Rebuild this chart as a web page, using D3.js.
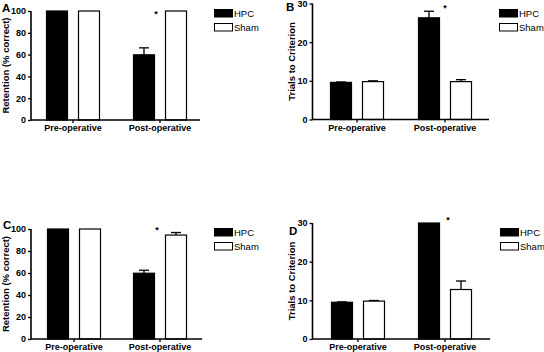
<!DOCTYPE html>
<html lang="en">
  <head>
    <meta charset="UTF-8">
    <title>HPC vs Sham</title>
    <script src="https://d3js.org/d3.v7.min.js"></script>
    <style>
      * {
        margin: 0;
        padding: 0;
      }
      body {
        background: #fff;
      }
      body > svg {
        display: block;
      }
      text {
        font-family: "Liberation Sans", Arial, sans-serif;
      }
    </style>
  </head>
  <body>
    <script>
      // data
      var categories = ["Pre-operative", "Post-operative"];
      var series = ["HPC", "Sham"];

      var hpcA = [100, 59.8], hpcErrA = [0, 6.4];
      var shamA = [100, 100], shamErrA = [0, 0];

      var hpcB = [9.6, 26.3], hpcErrB = [0.1, 1.7];
      var shamB = [9.8, 9.8], shamErrB = [0.2, 0.5];

      var hpcC = [100, 59.8], hpcErrC = [0, 2.7];
      var shamC = [100, 94.5], shamErrC = [0, 2.3];

      var hpcD = [9.5, 30], hpcErrD = [0.1, 0];
      var shamD = [9.8, 12.8], shamErrD = [0.15, 2.2];

      var ticksPct = [0, 20, 40, 60, 80, 100];
      var ticksTrials = [0, 10, 20, 30];

      var width = 544;
      var height = 352;

      var svg = d3.select("body").append("svg")
        .attr("width", width)
        .attr("height", height);

      // layout of the four panels
      var panels = [
        { id: "A", hpc: hpcA, hpcErr: hpcErrA, sham: shamA, shamErr: shamErrA,
          max: 100, ticks: ticksPct, ylabel: "Retention (% correct)",
          x0: 31, x1: 200, yTop: 11, yBot: 120, c: [73, 160], star: 156,
          starVal: 100, labelX: 2, labelY: 12, ylabX: 9, legX: 214, legY: 9 },
        { id: "B", hpc: hpcB, hpcErr: hpcErrB, sham: shamB, shamErr: shamErrB,
          max: 30, ticks: ticksTrials, ylabel: "Trials to Criterion",
          x0: 312.5, x1: 489, yTop: 3.5, yBot: 119.5, c: [357, 445], star: 445,
          starVal: 29.5, labelX: 286, labelY: 11, ylabX: 295, legX: 499, legY: 9 },
        { id: "C", hpc: hpcC, hpcErr: hpcErrC, sham: shamC, shamErr: shamErrC,
          max: 100, ticks: ticksPct, ylabel: "Retention (% correct)",
          x0: 31, x1: 202, yTop: 229, yBot: 339, c: [74, 160], star: 157,
          starVal: 102, labelX: 3, labelY: 229, ylabX: 9, legX: 214, legY: 228 },
        { id: "D", hpc: hpcD, hpcErr: hpcErrD, sham: shamD, shamErr: shamErrD,
          max: 30, ticks: ticksTrials, ylabel: "Trials to Criterion",
          x0: 312.5, x1: 490, yTop: 223, yBot: 339, c: [358, 445], star: 448,
          starVal: 31.5, labelX: 289, labelY: 235, ylabX: 295, legX: 500, legY: 228 }
      ];

      var fills = { HPC: "#000", Sham: "#fff" };

      panels.forEach(function (p) {
        var g = svg.append("g");
        var step = p.c[1] - p.c[0];

        var x = d3.scaleBand()
          .domain(categories)
          .range([p.c[0] - step / 2, p.c[1] + step / 2]);

        var xs = d3.scaleBand()
          .domain(series)
          .range([-27, 27])
          .paddingInner(0.3125);

        var y = d3.scaleLinear()
          .domain([0, p.max])
          .range([p.yBot, p.yTop]);

        var rows = [];
        categories.forEach(function (cat, i) {
          rows.push({ cat: cat, s: "HPC", v: p.hpc[i], e: p.hpcErr[i] });
          rows.push({ cat: cat, s: "Sham", v: p.sham[i], e: p.shamErr[i] });
        });

        function cx(d) {
          return x(d.cat) + x.bandwidth() / 2 + xs(d.s);
        }

        // error bars (upper half only)
        var eb = g.selectAll(".err")
          .data(rows.filter(function (d) { return d.e > 0; }))
          .enter().append("g")
          .attr("stroke", "#000")
          .attr("stroke-width", 1.3);
        eb.append("line")
          .attr("x1", function (d) { return cx(d) + xs.bandwidth() / 2; })
          .attr("x2", function (d) { return cx(d) + xs.bandwidth() / 2; })
          .attr("y1", function (d) { return y(d.v); })
          .attr("y2", function (d) { return y(d.v + d.e); });
        eb.append("line")
          .attr("x1", function (d) { return cx(d) + xs.bandwidth() / 2 - 5; })
          .attr("x2", function (d) { return cx(d) + xs.bandwidth() / 2 + 5; })
          .attr("y1", function (d) { return y(d.v + d.e); })
          .attr("y2", function (d) { return y(d.v + d.e); });

        g.selectAll(".bar")
          .data(rows)
          .enter().append("rect")
          .attr("x", function (d) { return cx(d) + 0.5; })
          .attr("y", function (d) { return y(d.v); })
          .attr("width", xs.bandwidth() - 1)
          .attr("height", function (d) { return y(0) - y(d.v); })
          .attr("fill", function (d) { return fills[d.s]; })
          .attr("stroke", "#000")
          .attr("stroke-width", 1.2);

        // y axis
        var yAxis = g.append("g")
          .attr("transform", "translate(" + p.x0 + ",0)")
          .call(d3.axisLeft(y).tickValues(p.ticks).tickSize(3).tickPadding(2));
        yAxis.select(".domain").attr("d", "M0," + (p.yBot + 0.5) + "V" + p.yTop)
          .attr("stroke-width", 1.6);
        yAxis.selectAll(".tick line").attr("stroke-width", 1.3);
        yAxis.selectAll("text")
          .attr("font-family", "Liberation Sans, Arial, sans-serif")
          .attr("font-size", 9)
          .attr("font-weight", "bold")
          .attr("fill", "#000");

        // x axis
        var xAxis = g.append("g")
          .attr("transform", "translate(0," + p.yBot + ")")
          .call(d3.axisBottom(x).tickSize(3).tickPadding(2));
        xAxis.select(".domain").attr("d", "M" + p.x0 + ",0H" + p.x1)
          .attr("stroke-width", 1.6);
        xAxis.selectAll(".tick line").attr("stroke-width", 1.3);
        xAxis.selectAll("text")
          .attr("font-family", "Liberation Sans, Arial, sans-serif")
          .attr("font-size", 9)
          .attr("font-weight", "bold")
          .attr("fill", "#000");

        // y axis title
        g.append("text")
          .attr("transform", "translate(" + p.ylabX + "," + ((p.yTop + p.yBot) / 2) + ") rotate(-90)")
          .attr("text-anchor", "middle")
          .attr("font-size", 9.5)
          .attr("font-weight", "bold")
          .text(p.ylabel);

        // panel letter
        g.append("text")
          .attr("x", p.labelX)
          .attr("y", p.labelY)
          .attr("font-size", 11.5)
          .attr("font-weight", "bold")
          .text(p.id);

        // significance star
        g.append("text")
          .attr("x", p.star)
          .attr("y", y(p.starVal) + 6)
          .attr("text-anchor", "middle")
          .attr("font-size", 9)
          .attr("font-weight", "bold")
          .attr("fill", "#000")
          .text("*");

        // legend
        var leg = g.selectAll(".leg")
          .data(series)
          .enter().append("g")
          .attr("transform", function (d, i) {
            return "translate(" + p.legX + "," + (p.legY + i * 14) + ")";
          });
        leg.append("rect")
          .attr("x", 0.5)
          .attr("y", 0.5)
          .attr("width", 18)
          .attr("height", 7.5)
          .attr("fill", function (d) { return fills[d]; })
          .attr("stroke", "#000")
          .attr("stroke-width", 1);
        leg.append("text")
          .attr("x", 20)
          .attr("y", 8)
          .attr("font-size", 9.5)
          .text(function (d) { return d; });
      });
    </script>
  </body>
</html>
